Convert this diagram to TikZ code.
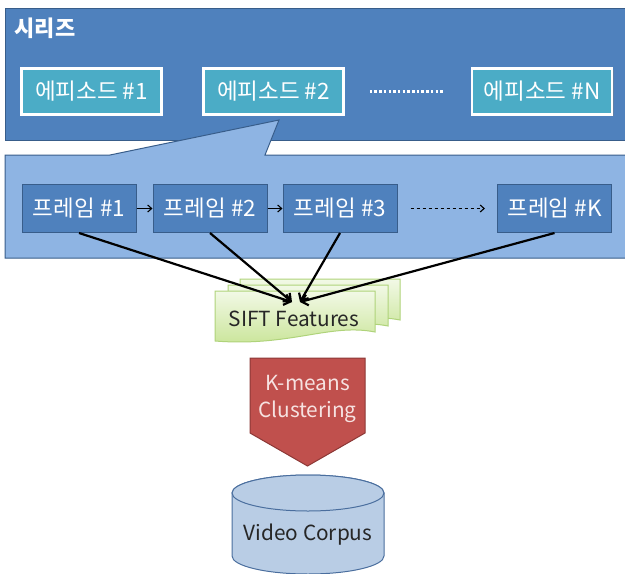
\documentclass[tikz,border=0pt]{standalone}
\usepackage{fontspec}
\setmainfont{Noto Sans CJK KR}
\usetikzlibrary{arrows.meta,shadows}
\definecolor{serblue}{HTML}{4F81BD}
\definecolor{serborder}{HTML}{385D8A}
\definecolor{epiteal}{HTML}{4BACC6}
\definecolor{callblue}{HTML}{8EB4E3}
\definecolor{siftTop}{HTML}{F2F9E6}
\definecolor{siftBot}{HTML}{C8E496}
\definecolor{siftborder}{HTML}{AFD37A}
\definecolor{kred}{HTML}{C0504D}
\definecolor{kborder}{HTML}{8C3836}
\definecolor{ktext}{HTML}{F6E2E1}
\definecolor{cylfill}{HTML}{B9CDE5}
\definecolor{cylborder}{HTML}{4A6E9E}
\begin{document}
\begin{tikzpicture}[x=1pt,y=-1pt,
  epibox/.style={draw=white, line width=2.5pt, fill=epiteal, text=white,
    minimum width=140pt, minimum height=46pt, inner sep=0pt,
    font=\fontsize{22.5}{24}\selectfont,
    drop shadow={opacity=0.35, shadow xshift=1.5pt, shadow yshift=-1.5pt}},
  framebox/.style={draw=serborder, line width=1pt, fill=serblue, text=white,
    minimum width=114pt, minimum height=48pt, inner sep=0pt,
    font=\fontsize{22.5}{24}\selectfont},
  docshape/.style={draw=siftborder, line width=1pt, top color=siftTop, bottom color=siftBot},
  feed/.style={line width=2.2pt, -{Straight Barb[length=6pt,width=11pt]}},
  step arrow/.style={line width=1.1pt, -{Straight Barb[length=4pt,width=7pt]}},
  latin/.style={font=\fontsize{20.8}{27}\selectfont}]
\useasboundingbox (0,0) rectangle (625,574);
\clip (0,0) rectangle (625,574);

% series box
\node[draw=serborder, line width=1pt, fill=serblue, anchor=north west,
  minimum width=640pt, minimum height=132pt, inner sep=0pt] (series) at (5,8) {};
\node[anchor=west, text=white, font=\bfseries\fontsize{22}{24}\selectfont] (title) at (11,28) {시리즈};

% callout
\draw[draw=serborder, line width=1pt, fill=callblue]
  (5,155) -- (110,155) -- (279,120) -- (265,155) -- (640,155) -- (640,258) -- (5,258) -- cycle;

% episodes
\node[epibox] (e1) at (91.5,91.5) {에피소드 \#1};
\node[epibox] (e2) at (273.5,91.5) {에피소드 \#2};
\node[epibox] (eN) at (542,91.5) {에피소드 \#N};
\draw[white, line width=3.5pt, dash pattern=on 2.5pt off 2.2pt, shorten <=25pt, shorten >=26pt] (e2) -- (eN);

% frames
\node[framebox] (f1) at (79,208.5) {프레임 \#1};
\node[framebox] (f2) at (210,208.5) {프레임 \#2};
\node[framebox] (f3) at (340,208.5) {프레임 \#3};
\node[framebox] (fK) at (554.5,208.5) {프레임 \#K};
\draw[step arrow] (f1) -- (f2);
\draw[step arrow] (f2) -- (f3);
\draw[step arrow, dashed, shorten <=13pt, shorten >=12pt] (f3) -- (fK);

% SIFT documents
\foreach \dx/\dy in {240/279, 228/285, 215/291}{
  \begin{scope}[shift={(\dx,\dy)}]
    \path[docshape] (0,0) -- (160,0) -- (160,41) .. controls (115,32) and (75,56) .. (0,50) -- cycle;
  \end{scope}
}
\node[latin, text=black!85] (sift) at (294,319) {SIFT Features};
\coordinate (inL) at (292,302);
\coordinate (inR) at (300,302);
\draw[feed] (f1.south) -- (inL);
\draw[feed] (f2.south) -- (inL);
\draw[feed] (f3.south) -- (inR);
\draw[feed] (fK.south) -- (inR);

% K-means arrow
\draw[draw=kborder, line width=1pt, fill=kred]
  (250,358) -- (365,358) -- (365,433) -- (307.5,466) -- (250,433) -- cycle;
\node[latin, align=center, text=ktext] (kmeans) at (307.5,399) {K-means\\Clustering};

% cylinder
\path[fill=cylfill, draw=cylborder, line width=1pt]
  (232,493) -- (232,556) arc[start angle=180, end angle=360, x radius=76pt, y radius=18pt]
  -- (384,493) arc[start angle=0, end angle=180, x radius=76pt, y radius=18pt] -- cycle;
\draw[cylborder, line width=1pt, fill=cylfill] (308,493) ellipse [x radius=76pt, y radius=18pt];
\node[latin, text=black!85] (corpus) at (308,535) {Video Corpus};
\end{tikzpicture}
\end{document}
